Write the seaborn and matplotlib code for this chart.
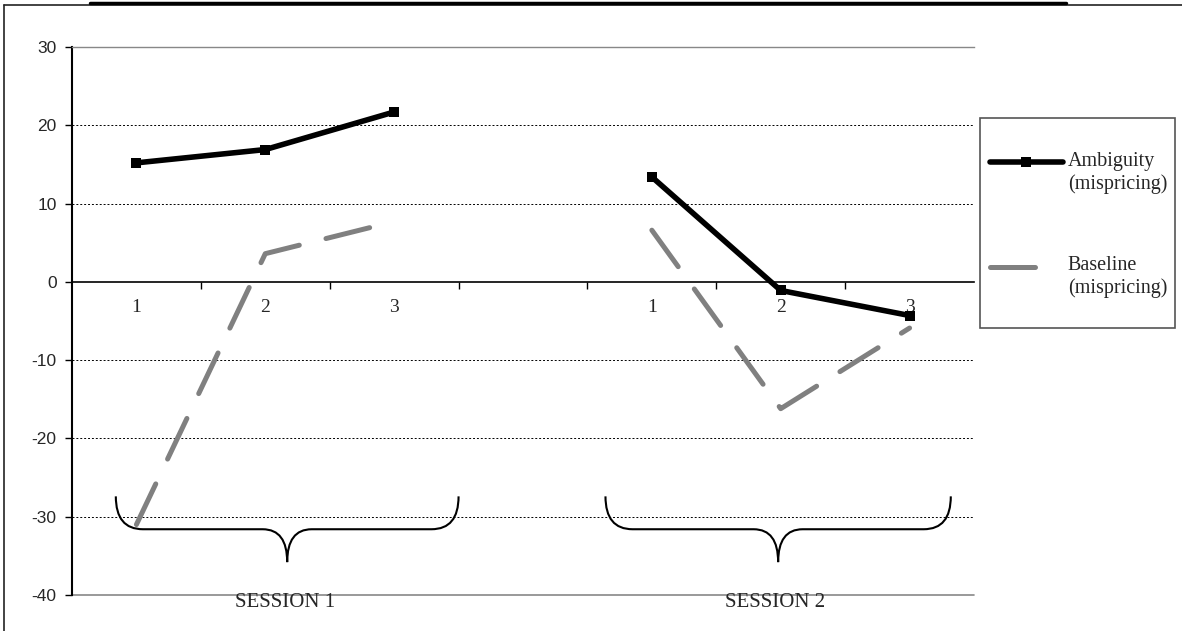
import numpy as np
import pandas as pd
import matplotlib
matplotlib.use("Agg")
import matplotlib.pyplot as plt
from matplotlib.lines import Line2D
from matplotlib.patches import PathPatch, Rectangle
from matplotlib.path import Path
import seaborn as sns

# x slots: rounds 1-3 of each session, with one empty slot in between
round_labels = ["1", "2", "3", "", "1", "2", "3"]
session_of_slot = [1, 1, 1, 0, 2, 2, 2]
ambiguity = [15.2, 16.9, 21.7, np.nan, 13.4, -1.1, -4.3]
baseline = [-31.0, 3.6, 7.7, np.nan, 6.6, -16.2, -5.9]
series_names = ["Ambiguity\n(mispricing)", "Baseline\n(mispricing)"]
session_names = ["SESSION 1", "SESSION 2"]
y_ticks = [30, 20, 10, 0, -10, -20, -30, -40]

W, H = 1182, 631


def draw_brace(ax, x0, x1, y_top=-27.4, y_mid=-31.6, y_tip=-35.8, arm=0.21, cusp=0.19):
    """Curly brace opening upwards, drawn in data coordinates."""
    xc = (x0 + x1) / 2
    verts = [(x0, y_top), (x0, y_mid), (x0 + arm, y_mid),
             (xc - cusp, y_mid), (xc, y_mid), (xc, y_tip),
             (xc, y_mid), (xc + cusp, y_mid),
             (x1 - arm, y_mid), (x1, y_mid), (x1, y_top)]
    codes = [Path.MOVETO, Path.CURVE3, Path.CURVE3,
             Path.LINETO, Path.CURVE3, Path.CURVE3,
             Path.CURVE3, Path.CURVE3,
             Path.LINETO, Path.CURVE3, Path.CURVE3]
    ax.add_patch(PathPatch(Path(verts, codes), fill=False, edgecolor="black",
                           linewidth=1.5, clip_on=False))
    return xc


def plot_mispricing():
    pos = np.arange(len(round_labels))
    df = pd.DataFrame({
        "slot": np.tile(pos, 2),
        "value": ambiguity + baseline,
        "series": np.repeat(series_names, len(pos)),
        "session": session_of_slot * 2,
    }).dropna()

    sns.set_style("white")
    plt.rcParams["font.family"] = ["Liberation Serif", "DejaVu Serif"]
    plt.rcParams["axes.unicode_minus"] = False

    fig = plt.figure(figsize=(W / 100, H / 100), dpi=100)
    ax = fig.add_axes([72 / W, 1 - 595 / H, (974 - 72) / W, (595 - 47) / H])

    # Ambiguity: solid black with square markers
    sns.lineplot(data=df[df.series == series_names[0]], x="slot", y="value",
                 units="session", estimator=None, color="black", linewidth=4,
                 marker="s", markersize=7.5, markeredgewidth=0, ax=ax, legend=False)
    # Baseline: grey dashed
    sns.lineplot(data=df[df.series == series_names[1]], x="slot", y="value",
                 units="session", estimator=None, color="#808080", linewidth=3.6,
                 linestyle=(0, (9, 5.5)), dash_capstyle="round", ax=ax, legend=False)

    ax.set_xlim(-0.5, len(pos) - 0.5)
    ax.set_ylim(-40, 30)
    ax.set_yticks(y_ticks)
    ax.set_xticks(pos)
    ax.set_xticklabels(round_labels)
    ax.set_xticks(pos[:-1] + 0.5, minor=True)
    ax.set_xlabel("")
    ax.set_ylabel("")

    # x axis crosses at zero, grey frame lines at top and bottom
    ax.spines["bottom"].set_position(("data", 0))
    ax.spines["bottom"].set_color("black")
    ax.spines["bottom"].set_linewidth(1.2)
    ax.spines["left"].set_color("black")
    ax.spines["left"].set_linewidth(1.5)
    ax.spines["top"].set_color("#888888")
    ax.spines["top"].set_linewidth(1)
    ax.spines["right"].set_visible(False)
    ax.axhline(-40, color="#888888", linewidth=1.2, clip_on=False)

    ax.tick_params(axis="x", which="major", bottom=True, length=0, pad=12, labelsize=14)
    ax.tick_params(axis="x", which="minor", bottom=True, length=5, width=1,
                   direction="out", color="black")
    ax.tick_params(axis="y", left=True, length=5, width=1, direction="out",
                   color="black", pad=6, labelsize=12.5)
    for t in ax.get_yticklabels():
        t.set_fontfamily("Liberation Sans")

    ax.grid(axis="y", color="black", linestyle=(0, (2, 2)), linewidth=0.7)
    for val, gl in zip(y_ticks, ax.yaxis.get_gridlines()):
        if val in (30, 0, -40):
            gl.set_visible(False)

    # braces and session labels
    brace_spans = [(-0.16, 2.50), (3.64, 6.32)]
    for name, (x0, x1) in zip(session_names, brace_spans):
        xc = draw_brace(ax, x0, x1)
        ax.text(xc - 0.02, -40.9, name, ha="center", va="center", fontsize=15,
                clip_on=False)

    # legend in a plain grey box to the right of the plot
    handles = [
        Line2D([], [], color="black", linewidth=4, marker="s", markersize=7.5,
               markeredgewidth=0),
        Line2D([], [], color="#808080", linewidth=3.6, linestyle=(0, (9, 10)),
               dash_capstyle="round"),
    ]
    leg = fig.legend(handles, series_names, loc="center left",
                     bbox_to_anchor=(972 / W, 1 - 225 / H), frameon=False,
                     fontsize=14.5, handlelength=3.6, handletextpad=0.25,
                     labelspacing=3.1)
    # line up each handle with the first line of its label
    for line in leg.get_lines():
        line.set_ydata(np.asarray(line.get_ydata()) + 7.5)
    fig.add_artist(Rectangle((980 / W, 1 - 328 / H), 195 / W, 210 / H,
                             transform=fig.transFigure, fill=False,
                             edgecolor="#555555", linewidth=1.2))

    # outer chart frame and the cut-off title underline at the top
    fig.add_artist(Line2D([4 / W, 4 / W], [0, 1 - 5 / H], color="#222222",
                          linewidth=1.2, transform=fig.transFigure))
    fig.add_artist(Line2D([4 / W, 1], [1 - 5 / H, 1 - 5 / H], color="#222222",
                          linewidth=1.2, transform=fig.transFigure))
    fig.add_artist(Line2D([90 / W, 1066 / W], [1 - 2.5 / H, 1 - 2.5 / H],
                          color="black", linewidth=2.5, transform=fig.transFigure))

    fig.savefig("out.png", dpi=100)


plot_mispricing()
